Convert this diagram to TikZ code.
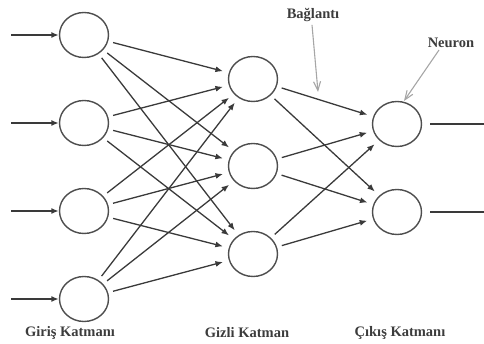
\documentclass[tikz,border=0pt]{standalone}
\usepackage{fontspec}
\setmainfont{Liberation Serif}
\usetikzlibrary{arrows.meta,shapes.geometric}
\definecolor{ln}{HTML}{3A3A3A}
\definecolor{txt}{HTML}{3C3C3C}
\begin{document}
\begin{tikzpicture}[x=1pt,y=-1pt,
  neuron/.style={ellipse,draw=ln!90,line width=1.4pt,minimum width=49pt,minimum height=45pt,inner sep=0pt},
  conn/.style={draw=ln,line width=1.3pt,-{Latex[length=7.5pt,width=6pt]},shorten <=5pt,shorten >=6pt},
  inarr/.style={draw=ln,line width=1.6pt,-{Latex[length=7.5pt,width=6pt]}},
  outl/.style={draw=ln,line width=1.6pt},
  callout/.style={draw=gray!70,line width=1.1pt,-{Straight Barb[length=9pt,width=7pt]}},
  lbl/.style={text=txt,font=\fontsize{14.5pt}{16pt}\selectfont\bfseries,inner sep=0pt}]
\useasboundingbox (0,0) rectangle (484,344);
% input layer
\foreach \i/\y in {1/35,2/123,3/211,4/299}{
  \node[neuron] (i\i) at (84,\y) {};
  \coordinate (s\i) at (11,\y);
  \draw[inarr] (s\i) -- (i\i.west);
}
% hidden layer
\foreach \j/\y in {1/79,2/166,3/254}{
  \node[neuron] (h\j) at (253,\y) {};
}
% output layer
\foreach \k/\y in {1/124,2/212}{
  \node[neuron] (o\k) at (397,\y) {};
  \coordinate (e\k) at (484,\y);
  \draw[outl] ([xshift=8pt]o\k.east) -- (e\k);
}
\foreach \i in {1,2,3,4}{
  \foreach \j in {1,2,3}{
    \draw[conn] (i\i) -- (h\j);
  }
}
\foreach \j in {1,2,3}{
  \foreach \k in {1,2}{
    \draw[conn] (h\j) -- (o\k);
  }
}
% callouts
\node[lbl] (bag) at (313,15) {Bağlantı};
\node[lbl] (neu) at (451,43) {Neuron};
\coordinate (bagt) at (318,92);
\coordinate (neut) at (404,101);
\draw[callout] ([xshift=-1pt,yshift=-3pt]bag.south) -- (bagt);
\draw[callout] ([xshift=-12pt,yshift=-2pt]neu.south) -- (neut);
% layer labels
\node[lbl] (l1) at (70,333) {Giriş Katmanı};
\node[lbl] (l2) at (247,333) {Gizli Katman};
\node[lbl] (l3) at (400,333) {Çıkış Katmanı};
\end{tikzpicture}
\end{document}
